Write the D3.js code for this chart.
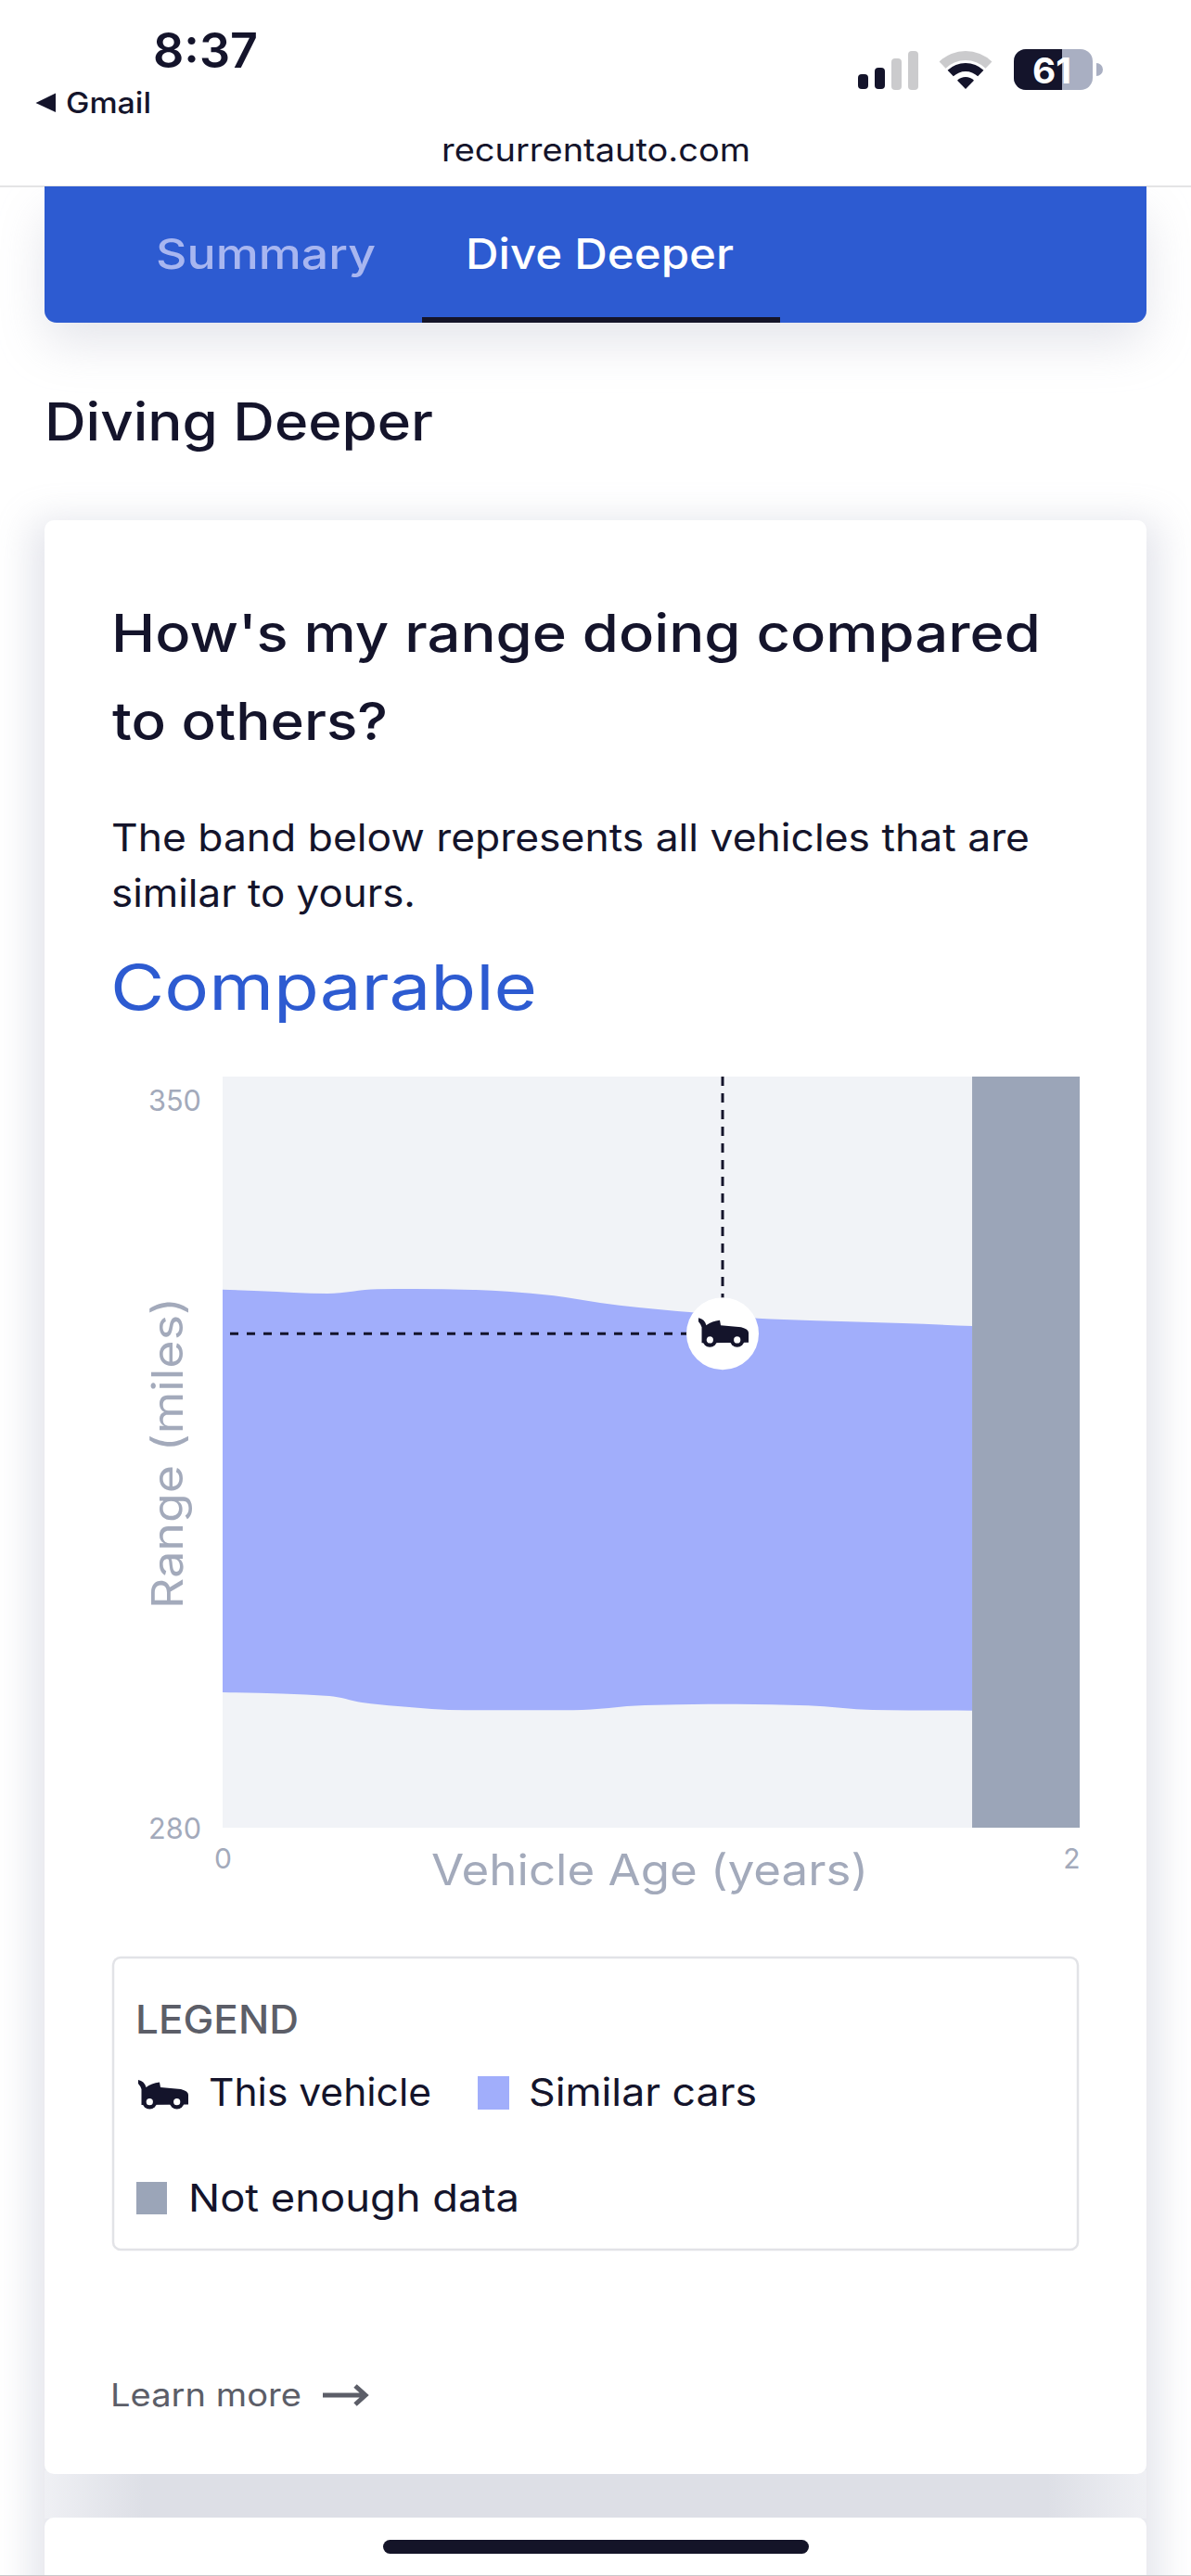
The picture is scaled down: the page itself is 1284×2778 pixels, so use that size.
<!DOCTYPE html>
<html><head><meta charset="utf-8">
<style>html,body{margin:0;padding:0;background:#fff}svg{display:block}text{font-family:Inter,sans-serif}</style>
<script src="https://cdn.jsdelivr.net/npm/d3@7"></script></head><body>
<svg id="c" width="1284" height="2778"></svg>
<script>
// ---- chart data ----
const upperAges  = [0, .087, .245, .361, .448, .591, .665, .773, .881, 1.061, 1.089, 1.249, 1.370, 1.587, 1.749];
const upperMiles = [330.15, 330.01, 329.78, 330.19, 330.21, 330.12, 329.98, 329.58, 328.91, 328.14, 328.05, 327.47, 327.27, 327.01, 326.76];
const lowerAges  = [0, .249, .325, .409, .567, .818, .985, 1.199, 1.366, 1.517, 1.749];
const lowerMiles = [292.62, 292.27, 291.67, 291.32, 290.95, 290.95, 291.41, 291.52, 291.38, 290.98, 290.92];
const vehicleAge = 1.1667;
const vehicleRange = 326.04;
const notEnoughFrom = 1.749;
const ageDomain = [0, 2];
const rangeDomain = [280, 350];
const ageTicks = [0, 2];
const rangeTicks = [280, 350];

const svg = d3.select("#c");
const INK = "#14142b", BLUE = "#2d5bd1", BAND = "#a1aefb", GREY = "#9ba5b8", AXIS = "#a3aabb", MUTED = "#5c5e68";

const defs = svg.append("defs");
defs.append("filter").attr("id","b1").attr("x","-20%").attr("y","-60%").attr("width","140%").attr("height","220%")
  .append("feGaussianBlur").attr("stdDeviation",26);
defs.append("filter").attr("id","b2").attr("x","-20%").attr("y","-20%").attr("width","140%").attr("height","140%")
  .append("feGaussianBlur").attr("stdDeviation",20);
const gapGrad = defs.append("linearGradient").attr("id","gap");
[[0,"#eff0f4"],[.09,"#dddfe6"],[.91,"#dddfe6"],[1,"#eff0f4"]].forEach(s=>
  gapGrad.append("stop").attr("offset",s[0]).attr("stop-color",s[1]));

function txt(s,x,y,size,weight,fill,width,anchor){
  const t = svg.append("text").attr("x",x).attr("y",y).attr("font-size",size).attr("font-weight",weight).attr("fill",fill).text(s);
  if(width) t.attr("textLength",width).attr("lengthAdjust","spacingAndGlyphs");
  if(anchor) t.attr("text-anchor",anchor);
  return t;
}
function rect(x,y,w,h,fill,r){
  return svg.append("rect").attr("x",x).attr("y",y).attr("width",w).attr("height",h).attr("fill",fill).attr("rx",r||0);
}

// page shadows
rect(48,230,1188,140,"#b9bccb",14).attr("opacity",.38).attr("filter","url(#b1)");
rect(34,561,1216,2300,"#a5a9bf",10).attr("opacity",.3).attr("filter","url(#b2)");
rect(48,2664,1188,52,"url(#gap)");

// cards
rect(48,561,1188,2107,"#fff",10);
rect(48,2715,1188,80,"#fff",10);
rect(0,2777,1284,1,"#c9c9cc");

// top browser bar
rect(0,0,1284,201,"#fff");
rect(0,200.5,1284,1,"#c9c9cc");
txt("8:37",165,73,52,600,INK,113);
svg.append("path").attr("d","M38.5,111 L60,100.5 L60,121 Z").attr("fill",INK);
txt("Gmail",71,122,31,500,INK,92);
txt("recurrentauto.com",476,174,35,400,INK,333);

// signal
[[925,80,11,16,INK],[943,73,11,23,INK],[961,63,11,34,"#cbcbcd"],[979,55,11,42,"#cbcbcd"]].forEach(b=>rect(b[0],b[1],b[2],b[3],b[4],4));
// wifi
const wifi = d3.arc();
[[0,13,INK],[19,28,INK],[31,41,"#cbcbcd"]].forEach(a=>{
  svg.append("path").attr("transform","translate(1041,96)")
    .attr("d",wifi({innerRadius:a[0],outerRadius:a[1],startAngle:-Math.PI/4.1,endAngle:Math.PI/4.1})).attr("fill",a[2]);
});
// battery
rect(1093,53,85,44,"#a9afc2",13);
svg.append("path").attr("d","M1145,53 H1106 A13,13 0 0 0 1093,66 V84 A13,13 0 0 0 1106,97 H1145 Z").attr("fill",INK);
svg.append("path").attr("d","M1182,68 A7,7 0 0 1 1182,82 Z").attr("fill","#a9afc2");
txt("61",1113,90,38,700,"#fff",42);

// tabs
svg.append("path").attr("d","M48,201 H1236 V335 A13,13 0 0 1 1223,348 H61 A13,13 0 0 1 48,335 Z").attr("fill",BLUE);
txt("Summary",168,290,45,500,"#a8b6f0",237);
txt("Dive Deeper",502,290,45,500,"#fff",289);
rect(455,342,386,6,"#141428");

txt("Diving Deeper",48,475,56,500,INK,419);

txt("How's my range doing compared",120,703,56,500,INK,1002);
txt("to others?",121,798,56,500,INK,297);
txt("The band below represents all vehicles that are",120,918,41,400,INK,990);
txt("similar to yours.",120,978,41,400,INK,328);
txt("Comparable",119,1089,68,400,BLUE,460);

// ---- chart ----
const x = d3.scaleLinear().domain(ageDomain).range([240,1164]);
const y = d3.scaleLinear().domain(rangeDomain).range([1971,1161]);

rect(x(ageDomain[0]),y(rangeDomain[1]),x(ageDomain[1])-x(ageDomain[0]),y(rangeDomain[0])-y(rangeDomain[1]),"#f1f3f7");

// band: upper edge forward, lower edge back, both through d3.line
const topLine = d3.line().x((d,i)=>x(upperAges[i])).y(d=>y(d)).curve(d3.curveMonotoneX);
const rev = lowerMiles.slice().reverse(), revA = lowerAges.slice().reverse();
const botRev = d3.line().x((d,i)=>x(revA[i])).y(d=>y(d)).curve(d3.curveMonotoneX);
svg.append("path").attr("fill",BAND)
  .attr("d", topLine(upperMiles) + "L" + botRev(rev).slice(1) + "Z");

// not enough data
rect(x(notEnoughFrom),y(rangeDomain[1]),x(ageDomain[1])-x(notEnoughFrom),y(rangeDomain[0])-y(rangeDomain[1]),GREY);

// axes
const gx = svg.append("g").attr("transform",`translate(0,${y(rangeDomain[0])})`)
  .call(d3.axisBottom(x).tickValues(ageTicks).tickSize(0).tickFormat(d3.format("d")));
gx.select(".domain").remove();
gx.selectAll("text").attr("font-family","Inter,sans-serif").attr("font-size",30).attr("fill",AXIS)
  .attr("y",44).attr("dy",0).attr("text-anchor",d=>d===ageDomain[1]?"end":"middle");
const gy = svg.append("g").attr("transform",`translate(${x(ageDomain[0])},0)`)
  .call(d3.axisLeft(y).tickValues(rangeTicks).tickSize(0).tickPadding(23).tickFormat(d3.format("d")));
gy.select(".domain").remove();
gy.selectAll("text").attr("font-family","Inter,sans-serif").attr("font-size",31).attr("fill",AXIS)
  .attr("dy",d=>d===rangeDomain[1]?36:11).attr("textLength",57).attr("lengthAdjust","spacingAndGlyphs");

txt("Vehicle Age (years)",465,2033,46,400,AXIS,471);
svg.append("text").attr("transform","translate(197,1735) rotate(-90)").attr("font-size",46).attr("fill",AXIS)
  .attr("textLength",336).attr("lengthAdjust","spacingAndGlyphs").text("Range (miles)");

// guides
const vx = x(vehicleAge), vy = y(vehicleRange);
svg.append("line").attr("x1",vx).attr("x2",vx).attr("y1",y(rangeDomain[1])).attr("y2",vy)
  .attr("stroke",INK).attr("stroke-width",3).attr("stroke-dasharray","10 8");
svg.append("line").attr("x1",x(ageDomain[0])+8).attr("x2",vx).attr("y1",vy).attr("y2",vy)
  .attr("stroke",INK).attr("stroke-width",3).attr("stroke-dasharray","9 9");

const CAR = "M-26,-17 Q-19.5,-16 -17.5,-9 Q-12,-13.5 -3,-14.5 L-2,-9 L20,-7 Q28,-5 28,-1 L28,9.5 L-22.5,10 L-22.5,-7 Q-24,-11 -26,-13 Z";
function car(cx,cy,bg){
  const g = svg.append("g").attr("transform",`translate(${cx},${cy})`);
  g.append("path").attr("d",CAR).attr("fill",INK);
  [-13.7,15.7].forEach(w=>{
    g.append("circle").attr("cx",w).attr("cy",6.7).attr("r",7.8).attr("fill",INK);
    g.append("circle").attr("cx",w).attr("cy",6.7).attr("r",3.6).attr("fill",bg);
  });
}
svg.append("circle").attr("cx",vx).attr("cy",vy).attr("r",39).attr("fill","#fff");
car(vx,vy,"#fff");

// legend
rect(122,2111,1040,315,"#fff",8).attr("stroke","#e2e3e7").attr("stroke-width",2.5);
txt("LEGEND",146,2193,42,500,MUTED,176);
car(175,2260,"#fff");
txt("This vehicle",225,2271,41,400,INK,240);
rect(515,2239,34,36,BAND);
txt("Similar cars",570,2271,41,400,INK,246);
rect(147,2353,33,35,GREY);
txt("Not enough data",203,2385,41,400,INK,357);

// learn more
txt("Learn more",119,2595,34,400,MUTED,206);
svg.append("path").attr("d","M348,2583 H393 M383,2573 L394,2583 L383,2593").attr("fill","none").attr("stroke",MUTED).attr("stroke-width",5);

// home indicator
rect(413,2739,459,15,"#141428",7.5);
</script></body></html>
